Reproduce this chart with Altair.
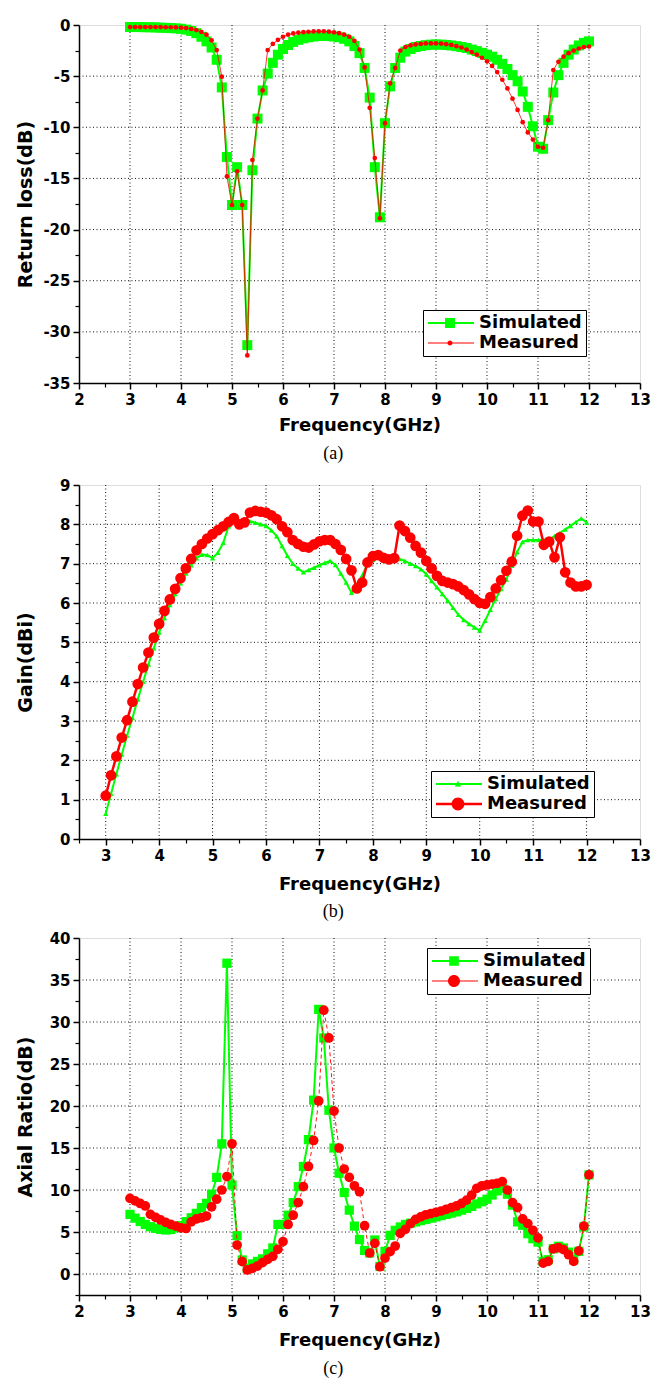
import altair as alt
import pandas as pd

# ---------------- data ----------------
FREQ = [3.0, 3.1, 3.2, 3.3, 3.4, 3.5, 3.6, 3.7, 3.8, 3.9,
        4.0, 4.1, 4.2, 4.3, 4.4, 4.5, 4.6, 4.7, 4.8, 4.9,
        5.0, 5.1, 5.2, 5.3, 5.4, 5.5, 5.6, 5.7, 5.8, 5.9,
        6.0, 6.1, 6.2, 6.3, 6.4, 6.5, 6.6, 6.7, 6.8, 6.9,
        7.0, 7.1, 7.2, 7.3, 7.4, 7.5, 7.6, 7.7, 7.8, 7.9,
        8.0, 8.1, 8.2, 8.3, 8.4, 8.5, 8.6, 8.7, 8.8, 8.9,
        9.0, 9.1, 9.2, 9.3, 9.4, 9.5, 9.6, 9.7, 9.8, 9.9,
        10.0, 10.1, 10.2, 10.3, 10.4, 10.5, 10.6, 10.7, 10.8, 10.9,
        11.0, 11.1, 11.2, 11.3, 11.4, 11.5, 11.6, 11.7, 11.8, 11.9,
        12.0]

RL_SIM = [-0.2, -0.2, -0.2, -0.22, -0.22, -0.24, -0.26, -0.28, -0.3, -0.33,
          -0.37, -0.45, -0.58, -0.8, -1.15, -1.6, -2.2, -3.4, -6.1, -12.9,
          -17.6, -13.9, -17.6, -31.3, -14.2, -9.15, -6.4, -4.75, -3.7, -2.9,
          -2.35, -1.95, -1.65, -1.45, -1.3, -1.2, -1.12, -1.08, -1.05, -1.08,
          -1.12, -1.2, -1.35, -1.6, -2.05, -2.75, -4.2, -7.1, -13.9, -18.8,
          -9.6, -6.0, -4.2, -3.2, -2.6, -2.35, -2.15, -2.05, -1.97, -1.92,
          -1.9, -1.92, -1.95, -2.0, -2.07, -2.15, -2.25, -2.4, -2.55, -2.72,
          -2.9, -3.1, -3.4, -3.8, -4.3, -4.9, -5.5, -6.5, -8.0, -9.9,
          -11.9, -12.1, -9.3, -6.6, -4.9, -3.7, -2.9, -2.4, -2.0, -1.75,
          -1.6]
RL_MEAS = [-0.2, -0.2, -0.2, -0.2, -0.2, -0.2, -0.2, -0.22, -0.22, -0.24,
           -0.26, -0.3, -0.38, -0.5, -0.68, -0.95, -1.5, -2.45, -5.05, -14.8,
           -17.6, -14.3, -17.6, -32.3, -13.2, -9.15, -6.4, -2.45, -1.85, -1.45,
           -1.15, -0.95, -0.82, -0.75, -0.7, -0.66, -0.63, -0.62, -0.62, -0.65,
           -0.72, -0.8, -0.95, -1.15, -1.55, -2.4, -4.15, -8.1, -13.0, -18.9,
           -9.6, -5.7, -4.2, -2.5, -2.15, -2.0, -1.9, -1.85, -1.8, -1.8,
           -1.8, -1.82, -1.87, -1.95, -2.07, -2.2, -2.4, -2.65, -2.9, -3.2,
           -3.55, -4.0, -4.6, -5.35, -6.2, -7.2, -8.3, -9.5, -10.5, -11.2,
           -11.9, -12.0, -9.3, -4.4, -3.6, -3.1, -2.75, -2.5, -2.3, -2.15,
           -2.1]

GAIN_SIM = [0.64, 1.15, 1.65, 2.15, 2.63, 3.08, 3.55, 4.0, 4.44, 4.85,
            5.25, 5.62, 5.95, 6.23, 6.5, 6.75, 6.96, 7.14, 7.23, 7.22,
            7.14, 7.28, 7.53, 7.95, 8.05, 8.0, 8.02, 8.08, 8.04, 8.0,
            7.96, 7.85, 7.7, 7.45, 7.2, 7.0, 6.88, 6.78, 6.84, 6.9,
            6.96, 7.02, 7.07, 6.97, 6.75, 6.52, 6.26, 6.47, 6.7, 7.0,
            7.1, 7.15, 7.12, 7.1, 7.12, 7.12, 7.07, 7.0, 6.94, 6.86,
            6.73, 6.56, 6.4, 6.23, 6.06, 5.88, 5.7, 5.57, 5.47, 5.38,
            5.3, 5.55, 5.83, 6.1, 6.36, 6.6, 6.95, 7.3, 7.55, 7.6,
            7.6, 7.6, 7.6, 7.62, 7.7, 7.78, 7.87, 7.96, 8.06, 8.15,
            8.05]
GAIN_MEAS = [1.1, 1.62, 2.1, 2.58, 3.02, 3.49, 3.94, 4.36, 4.74, 5.12,
             5.47, 5.8, 6.09, 6.36, 6.63, 6.88, 7.12, 7.34, 7.5, 7.64,
             7.75, 7.85, 7.95, 8.06, 8.16, 8.0, 8.05, 8.3, 8.34, 8.32,
             8.3, 8.23, 8.13, 7.95, 7.8, 7.6, 7.5, 7.43, 7.41, 7.49,
             7.57, 7.6, 7.6, 7.5, 7.35, 7.12, 6.83, 6.37, 6.52, 7.03,
             7.19, 7.22, 7.15, 7.11, 7.14, 7.97, 7.83, 7.66, 7.45, 7.28,
             7.07, 6.88, 6.69, 6.56, 6.52, 6.48, 6.42, 6.33, 6.22, 6.1,
             6.0, 5.98, 6.15, 6.37, 6.58, 6.82, 7.05, 7.71, 8.22, 8.35,
             8.07, 8.07, 7.48, 7.56, 7.16, 7.67, 6.78, 6.52, 6.42, 6.42,
             6.46]

AR_SIM = [7.1, 6.65, 6.25, 5.9, 5.63, 5.44, 5.32, 5.24, 5.3, 5.5,
          5.75, 6.23, 6.7, 7.22, 7.9, 8.41, 9.5, 11.5, 15.5, 37.0,
          10.6, 4.56, 1.67, 0.7, 1.2, 1.5, 1.8, 2.4, 3.1, 5.9,
          5.9, 7.0, 8.5, 10.4, 12.8, 16.0, 20.7, 31.5, 28.1, 19.5,
          15.0, 12.0, 9.7, 7.6, 5.7, 4.1, 2.8, 2.5, 4.05, 0.9,
          2.7, 4.6, 5.2, 5.6, 5.9, 6.05, 6.2, 6.35, 6.5, 6.65,
          6.8, 6.95, 7.1, 7.25, 7.4, 7.6, 7.8, 8.05, 8.35, 8.6,
          8.9, 9.4, 9.9, 10.2, 9.5, 8.2, 6.2, 5.8, 4.8, 4.2,
          3.8, 1.5, 1.7, 3.0, 3.3, 3.1, 2.6, 1.7, 2.7, 5.6,
          11.8]
AR_MEAS = [9.0, 8.7, 8.4, 8.1, 7.1, 6.75, 6.43, 6.15, 5.9, 5.7,
           5.5, 5.42, 6.2, 6.55, 6.7, 6.9, 8.0, 8.9, 10.0, 11.6,
           15.5, 3.45, 1.47, 0.48, 0.67, 0.95, 1.35, 1.75, 2.1, 2.94,
           3.85, 5.9, 7.0, 8.5, 10.4, 12.8, 15.9, 20.6, 31.4, 28.1,
           19.4, 15.0, 12.5, 11.5, 10.5, 9.8, 5.75, 2.5, 3.65, 0.87,
           1.9, 2.66, 3.33, 4.84, 5.32, 6.0, 6.5, 6.8, 7.05, 7.2,
           7.35, 7.5, 7.7, 7.9, 8.1, 8.4, 8.8, 9.4, 10.2, 10.5,
           10.6, 10.7, 10.8, 11.0, 10.0, 8.5, 7.9, 6.55, 6.0, 5.2,
           4.3, 1.3, 1.5, 3.0, 3.15, 2.9, 2.3, 1.5, 2.75, 5.7,
           11.8]

SERIES = ["Simulated", "Measured"]

# axis tick / grid values
X_MAJOR = [2, 3, 4, 5, 6, 7, 8, 9, 10, 11, 12, 13]
X_MAJOR_B = [3, 4, 5, 6, 7, 8, 9, 10, 11, 12, 13]
X_MINOR = [2.5, 3.5, 4.5, 5.5, 6.5, 7.5, 8.5, 9.5, 10.5, 11.5, 12.5]
X_GRID = [3, 4, 5, 6, 7, 8, 9, 10, 11, 12]
Y_MAJOR_A = [0, -5, -10, -15, -20, -25, -30, -35]
Y_MINOR_A = [-2.5, -7.5, -12.5, -17.5, -22.5, -27.5, -32.5]
Y_GRID_A = [-5, -10, -15, -20, -25, -30]
Y_MAJOR_B = [0, 1, 2, 3, 4, 5, 6, 7, 8, 9]
Y_MINOR_B = [0.5, 1.5, 2.5, 3.5, 4.5, 5.5, 6.5, 7.5, 8.5]
Y_GRID_B = [1, 2, 3, 4, 5, 6, 7, 8]
Y_MAJOR_C = [0, 5, 10, 15, 20, 25, 30, 35, 40]
Y_MINOR_C = [-2.5, 2.5, 7.5, 12.5, 17.5, 22.5, 27.5, 32.5, 37.5]
Y_GRID_C = [0, 5, 10, 15, 20, 25, 30, 35]

# ---------------- styling ----------------
FONT = "DejaVu Sans"
SERIF = "Liberation Serif"
GREEN = "#00ff00"
RED = "#ff0000"
GRID = "#111111"
PW = 561


def circle_path(cx, r):
    return (f"M{cx + r},0A{r},{r} 0 1,1 {cx - r},0"
            f"A{r},{r} 0 1,1 {cx + r},0Z")


def line_path(h):
    return f"M-1,{-h}H4.75V{h}H-1Z"


def square_path(cx, s):
    return f"M{cx - s},{-s}H{cx + s}V{s}H{cx - s}Z"


def tri_path(cx, s):
    return f"M{cx},{-s}L{cx + s},{s * 0.8}L{cx - s},{s * 0.8}Z"


CX = 1.75


def make_panel(sim, meas, p):
    df = pd.DataFrame({
        "f": FREQ + FREQ,
        "v": sim + meas,
        "series": ["Simulated"] * len(FREQ) + ["Measured"] * len(FREQ),
    })
    base = alt.Chart(df)
    xs = alt.Scale(domain=p["xdom"], nice=False, zero=False)
    ys = alt.Scale(domain=p["ydom"], nice=False, zero=False)

    common = dict(domainColor="black", domainWidth=1.5, tickColor="black",
                  tickWidth=1.5, labelFont=FONT, labelFontSize=15,
                  labelFontWeight="bold", labelColor="black", labelFlush=False,
                  labelOverlap=False, labelExpr="'' + datum.value",
                  titleFont=FONT, titleFontWeight="bold", titleColor="black",
                  grid=False)
    x_major = alt.Axis(orient="bottom", values=p["xmajor"], title="Frequency(GHz)",
                       tickSize=6, labelPadding=3, titleFontSize=18,
                       titlePadding=p["xtp"], **common)
    y_major = alt.Axis(orient="left", values=p["ymajor"], title=p["ytitle"],
                       tickSize=6, labelPadding=3, titleFontSize=19,
                       titlePadding=8, minExtent=36, maxExtent=36, **common)
    x_minor = alt.Axis(orient="bottom", values=p["xminor"], title=None,
                       labels=False, domain=False, ticks=True, tickSize=4,
                       tickWidth=1.2, tickColor="black", grid=False)
    y_minor = alt.Axis(orient="left", values=p["yminor"], title=None,
                       labels=False, domain=False, ticks=True, tickSize=4,
                       tickWidth=1.2, tickColor="black", grid=False)

    vgrid = alt.Chart(pd.DataFrame({"g": X_GRID})).mark_rule(
        color=GRID, strokeDash=[1, 2.5], strokeWidth=1
    ).encode(x=alt.X("g:Q", scale=xs, axis=x_major))
    hgrid = alt.Chart(pd.DataFrame({"h": p["ygrid"]})).mark_rule(
        color=GRID, strokeDash=[1, 2.5], strokeWidth=1
    ).encode(y=alt.Y("h:Q", scale=ys, axis=y_major))

    s = p["style"]
    sim_f = base.transform_filter("datum.series == 'Simulated'")
    meas_f = base.transform_filter("datum.series == 'Measured'")
    x_enc = alt.X("f:Q", scale=xs, axis=None)
    y_enc = alt.Y("v:Q", scale=ys, axis=None)

    sim_line = sim_f.mark_line(color=GREEN, strokeWidth=s["sim_lw"]).encode(
        x=alt.X("f:Q", scale=xs, axis=x_minor),
        y=alt.Y("v:Q", scale=ys, axis=y_minor))
    sim_pts = sim_f.mark_point(shape=s["sim_shape"], filled=True, size=s["sim_size"],
                               color=GREEN, opacity=1, strokeWidth=0).encode(x=x_enc, y=y_enc)
    meas_line_kw = dict(color=RED, strokeWidth=s["meas_lw"], opacity=s["meas_lop"])
    if s.get("meas_dash"):
        meas_line_kw["strokeDash"] = s["meas_dash"]
    meas_line = meas_f.mark_line(**meas_line_kw).encode(x=x_enc, y=y_enc)
    meas_pts = meas_f.mark_point(shape="circle", filled=True, size=s["meas_size"],
                                 color=RED, opacity=1, strokeWidth=0).encode(x=x_enc, y=y_enc)

    label_expr = p.get("label_expr", "datum.label")
    leg = alt.Legend(orient="none", legendX=p["lx"], legendY=p["ly"], title=None,
                     labelFont=FONT, labelFontSize=18, labelFontWeight="bold",
                     labelColor="black", symbolSize=256, symbolStrokeWidth=0,
                     symbolOpacity=1, labelOffset=34, padding=4, rowPadding=2,
                     strokeColor="black", fillColor="white", labelExpr=label_expr)
    legend_layer = base.transform_filter("datum.f < 0").mark_point(
        filled=True, opacity=1, strokeWidth=0
    ).encode(
        x=x_enc, y=y_enc,
        color=alt.Color("series:N", scale=alt.Scale(domain=SERIES, range=[GREEN, RED]), legend=leg),
        shape=alt.Shape("series:N", scale=alt.Scale(domain=SERIES, range=p["paths"]), legend=leg),
    )

    return alt.layer(vgrid, hgrid, sim_line, sim_pts, meas_line, meas_pts, legend_layer).resolve_axis(
        x="independent", y="independent"
    ).properties(
        width=PW, height=p["h"],
        title=alt.TitleParams(p["cap"], orient="bottom", font=SERIF, fontSize=18,
                              fontWeight="normal", color="black", offset=p["capoff"],
                              anchor="middle", frame="bounds"),
    )


panel_a = make_panel(RL_SIM, RL_MEAS, dict(
    xdom=[2, 13], ydom=[-35, 0], xmajor=X_MAJOR, xminor=X_MINOR,
    ymajor=Y_MAJOR_A, yminor=Y_MINOR_A, ygrid=Y_GRID_A, ytitle="Return loss(dB)",
    xtp=9, h=358, cap="(a)", capoff=11, lx=344, ly=285,
    label_expr="datum.label == 'Measured' ? '\u00a0' + datum.label : datum.label",
    paths=[line_path(0.125) + " " + square_path(CX, 0.625),
           line_path(0.07) + " " + circle_path(CX, 0.32)],
    style=dict(sim_lw=2, sim_shape="square", sim_size=100, meas_lw=1, meas_lop=0.8,
               meas_size=22),
))

panel_b = make_panel(GAIN_SIM, GAIN_MEAS, dict(
    xdom=[2.5, 13], ydom=[0, 9], xmajor=X_MAJOR_B, xminor=X_MINOR,
    ymajor=Y_MAJOR_B, yminor=Y_MINOR_B, ygrid=Y_GRID_B, ytitle="Gain(dBi)",
    xtp=12, h=354, cap="(b)", capoff=10, lx=352, ly=286,
    paths=[line_path(0.125) + " " + tri_path(CX, 0.4),
           line_path(0.16) + " " + circle_path(CX, 0.8)],
    style=dict(sim_lw=2, sim_shape="triangle-up", sim_size=28, meas_lw=2.5, meas_lop=1,
               meas_size=115),
))

panel_c = make_panel(AR_SIM, AR_MEAS, dict(
    xdom=[2, 13], ydom=[-2.5, 40], xmajor=X_MAJOR, xminor=X_MINOR,
    ymajor=Y_MAJOR_C, yminor=Y_MINOR_C, ygrid=Y_GRID_C, ytitle="Axial Ratio(dB)",
    xtp=12, h=357, cap="(c)", capoff=11, lx=348, ly=10,
    paths=[line_path(0.125) + " " + square_path(CX, 0.6),
           line_path(0.07) + " " + circle_path(CX, 0.75)],
    style=dict(sim_lw=2, sim_shape="square", sim_size=85, meas_lw=1, meas_lop=0.9,
               meas_dash=[4, 3], meas_size=95),
))

top = alt.vconcat(panel_a, panel_b, spacing=13).resolve_scale(
    color="independent", shape="independent").resolve_legend(
    color="independent", shape="independent")

chart = alt.vconcat(top, panel_c, spacing=8).resolve_scale(
    color="independent", shape="independent").resolve_legend(
    color="independent", shape="independent"
).properties(
    padding={"left": 7, "top": 9, "right": 5, "bottom": 2}
).configure_view(stroke=None).configure(background="white")

chart.save("out.html", embed_options={"renderer": "svg", "actions": False})
